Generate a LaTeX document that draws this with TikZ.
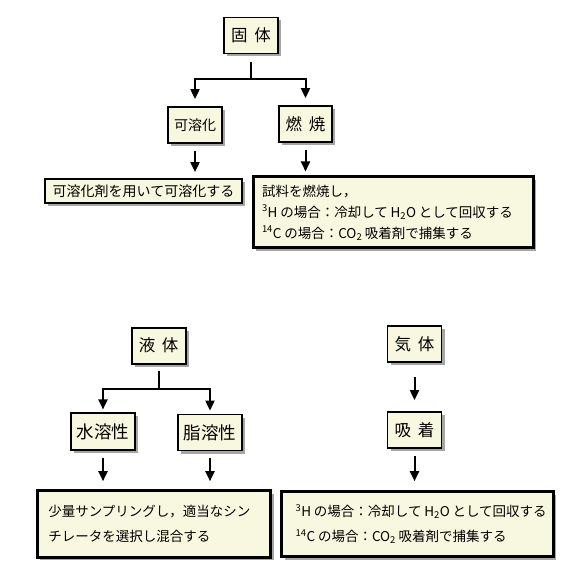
\documentclass[tikz,border=0pt]{standalone}
\usepackage{fontspec}
\setmainfont{Noto Sans CJK JP}
\usepackage{xcolor}
\usepackage{tikz}
\usetikzlibrary{arrows.meta,shadows}
\definecolor{cream}{RGB}{248,248,224}

\begin{document}
\begin{tikzpicture}[x=1pt,y=-1pt,
box/.style={draw,line width=1.8pt,fill=cream,inner sep=0pt,
drop shadow={shadow xshift=3pt,shadow yshift=-3pt,fill=black,opacity=.35}},
title/.style={box,minimum width=54,minimum height=36,font=\fontsize{16.5}{20}\selectfont},
bigbox/.style={box,line width=3pt,align=left,font=\fontsize{13.5}{25}\selectfont},
arr/.style={line width=2pt,-{Triangle[width=9pt,length=10pt]},shorten <=7pt,shorten >=6pt}]
\useasboundingbox[fill=white] (0,0) rectangle (584,580);
\node[title] (solid) at (251,35.5) {固\hspace{.4em}体};
\node[box,minimum width=54,minimum height=36,font=\fontsize{14}{17}\selectfont] (kayo) at (195,125) {可溶化};
\node[title,minimum width=53] (nensho) at (305.5,124) {燃\hspace{.4em}焼};
\node[box,minimum width=197,minimum height=24,font=\fontsize{14}{17}\selectfont] (kayostep) at (143.5,191) {可溶化剤を用いて可溶化する};
\node[bigbox,line width=3pt,minimum width=280,minimum height=71,inner xsep=9pt,text width=262pt,
font=\fontsize{13.5}{21}\selectfont] (nenshostep) at (393,212.5)
{\mbox{試料を燃焼し，}\\
\mbox{\textsuperscript{3}H\hspace{.2em}の場合：冷却して\hspace{.2em}H\textsubscript{2}O\hspace{.2em}として回収する}\\
\mbox{\textsuperscript{14}C\hspace{.2em}の場合：CO\textsubscript{2}\hspace{.2em}吸着剤で捕集する}};
\node[title] (liquid) at (158.7,345.7) {液\hspace{.4em}体};
\node[box,minimum width=64.6,minimum height=36.7,font=\fontsize{17.5}{20}\selectfont] (water) at (103,431.7) {水溶性};
\node[box,minimum width=64.6,minimum height=36,font=\fontsize{17.5}{20}\selectfont] (fat) at (210,432.5) {脂溶性};
\node[title] (gas) at (414.5,344) {気\hspace{.4em}体};
\node[title] (adsorb) at (414.5,430) {吸\hspace{.4em}着};
\node[bigbox,minimum width=233.4,minimum height=66.6,inner xsep=11pt,text width=211.4pt] (liqstep) at (154,524)
{\mbox{少量サンプリングし，適当なシン}\\
\mbox{チレータを選択し混合する}};
\node[bigbox,minimum width=271.6,minimum height=65,inner xsep=14pt,text width=243.6pt] (gasstep) at (417.5,524.2)
{\mbox{\textsuperscript{3}H\hspace{.2em}の場合：冷却して\hspace{.2em}H\textsubscript{2}O\hspace{.2em}として回収する}\\
\mbox{\textsuperscript{14}C\hspace{.2em}の場合：CO\textsubscript{2}\hspace{.2em}吸着剤で捕集する}};
\draw[arr,shorten <=7.5pt,shorten >=7pt] (solid.south) -- ++(0,25) -| (kayo.north);
\draw[arr,shorten <=7.5pt,shorten >=7pt] (solid.south) -- ++(0,25) -| (nensho.north);
\draw[arr] (kayo.south) -- (kayo.south |- kayostep.north);
\draw[arr,shorten >=4pt] (nensho.south) -- (nensho.south |- nenshostep.north);
\draw[arr,shorten <=6pt,shorten >=3pt] (liquid.south) -- ++(0,24) -| (water.north);
\draw[arr,shorten <=6pt,shorten >=3pt] (liquid.south) -- ++(0,24) -| (fat.north);
\draw[arr,shorten <=14pt,shorten >=11pt] (gas.south) -- (adsorb.north);
\draw[arr,shorten >=8pt] (water.south) -- (water.south |- liqstep.north);
\draw[arr,shorten >=8pt] (fat.south) -- (fat.south |- liqstep.north);
\draw[arr,shorten >=9pt] (adsorb.south) -- (adsorb.south |- gasstep.north);
\end{tikzpicture}
\end{document}
